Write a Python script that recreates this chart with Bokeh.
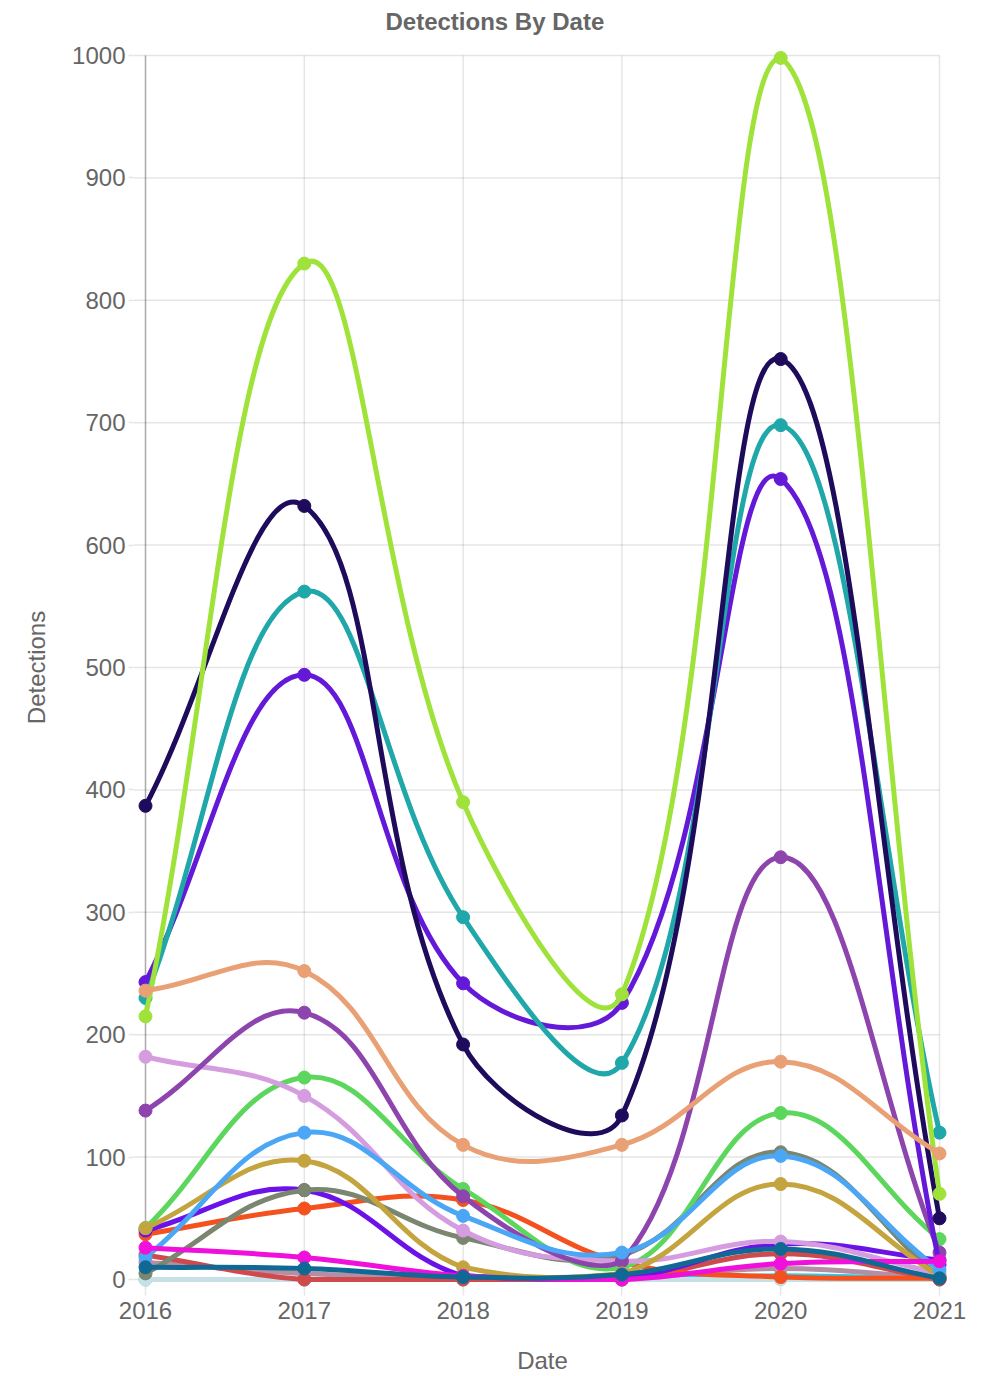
import math
from bokeh.plotting import figure
from bokeh.models import ColumnDataSource, Range1d, FixedTicker, BasicTickFormatter, Title
from bokeh.embed import file_html
from bokeh.resources import INLINE

# ---------------- data ----------------
years = [2016, 2017, 2018, 2019, 2020, 2021]
y_ticks = [0, 100, 200, 300, 400, 500, 600, 700, 800, 900, 1000]

dark_teal = [10, 9, 2, 4, 25, 1]
magenta = [26, 18, 3, 0, 13, 15]
light_blue = [18, 120, 52, 22, 101, 8]
salmon = [236, 252, 110, 110, 178, 103]
olive = [42, 97, 10, 5, 78, 3]
lime = [215, 830, 390, 233, 998, 70]
navy = [387, 632, 192, 134, 752, 50]
teal = [230, 562, 296, 177, 698, 120]
violet = [243, 494, 242, 226, 654, 12]
purple = [138, 218, 68, 15, 345, 22]
lilac = [182, 150, 40, 15, 31, 5]
green = [42, 165, 74, 10, 136, 33]
gray_green = [5, 73, 34, 20, 104, 2]
violet_small = [40, 73, 3, 1, 29, 16]
orange = [37, 58, 65, 14, 2, 1]
red = [20, 0, 0, 0, 21, 0]
mauve = [14, 5, 1, 1, 9, 1]
pale_blue = [0, 0, 0, 0, 0, 0]
cyan = [0, 0, 0, 0, 3, 0]

# dataset order: first = drawn on top
series = [
    ("dark_teal", "#0f6994", dark_teal),
    ("magenta", "#f010dc", magenta),
    ("light_blue", "#4ba7f5", light_blue),
    ("salmon", "#e9a074", salmon),
    ("olive", "#c4a43f", olive),
    ("lime", "#9fe23a", lime),
    ("navy", "#1f0b5c", navy),
    ("teal", "#1fa7aa", teal),
    ("violet", "#6418d8", violet),
    ("purple", "#8e44ad", purple),
    ("lilac", "#d59de0", lilac),
    ("green", "#5dd65d", green),
    ("gray_green", "#7b8670", gray_green),
    ("violet_small", "#6a12e8", violet_small),
    ("orange", "#f4511e", orange),
    ("red", "#cf4a4d", red),
    ("mauve", "#b48fa3", mauve),
    ("pale_blue", "#c6e0e6", pale_blue),
    ("cyan", "#22d0ee", cyan),
]

# ---------------- layout constants ----------------
W, H = 978, 1376
PX_YEAR = 158.8   # pixels per year on screen
PX_UNIT = 1.225   # pixels per detection on screen
PAD = 12          # pixels of padding around the chart area
X0, X1 = years[0], years[-1]
Y0, Y1 = y_ticks[0], y_ticks[-1]
XS, XE = X0 - PAD / PX_YEAR, X1 + PAD / PX_YEAR
YS, YE = Y0 - PAD / PX_UNIT, Y1 + PAD / PX_UNIT

TEXT = "#666666"
FONT = "Liberation Sans"
FS = "24px"

p = figure(
    width=W, height=H, title=None,
    x_range=Range1d(XS, XE), y_range=Range1d(YS, YE),
    output_backend="svg", toolbar_location=None,
    min_border_left=133, min_border_right=27, min_border_top=43, min_border_bottom=84,
)
p.outline_line_color = None
p.background_fill_color = "white"
p.border_fill_color = "white"
p.xgrid.grid_line_color = None
p.ygrid.grid_line_color = None

for ax, ticks in ((p.xaxis[0], years), (p.yaxis[0], y_ticks)):
    ax.ticker = FixedTicker(ticks=ticks)
    ax.formatter = BasicTickFormatter(use_scientific=False)
    ax.axis_line_color = None
    ax.major_tick_line_color = "black"
    ax.major_tick_line_alpha = 0.1
    ax.major_tick_line_width = 1.5
    ax.major_tick_in = 0
    ax.minor_tick_line_color = None
    ax.major_label_text_color = TEXT
    ax.major_label_text_font = FONT
    ax.major_label_text_font_size = FS
    ax.axis_label_text_color = TEXT
    ax.axis_label_text_font = FONT
    ax.axis_label_text_font_size = FS
    ax.axis_label_text_font_style = "normal"
p.yaxis.major_tick_out = 5
p.yaxis.major_label_standoff = 3
p.yaxis.axis_label = "Detections"
p.yaxis.axis_label_standoff = 19
p.xaxis.major_tick_out = 4
p.xaxis.major_label_standoff = 6
p.xaxis.axis_label = "Date"
p.xaxis.axis_label_standoff = 25
p.xaxis.axis_label_text_line_height = 1.0

p.add_layout(Title(text="Detections By Date", align="left", offset=252, standoff=13, vertical_align="top",
                   text_font=FONT, text_font_size=FS, text_font_style="bold", text_color=TEXT), "above")

# grid lines (with their tick stubs running into the padding)
gx = ColumnDataSource(dict(x=years, y0=[YS] * len(years), y1=[Y1] * len(years)))
p.segment(x0="x", y0="y0", x1="x", y1="y1", source=gx, line_color="black", line_alpha=0.1, line_width=1.5)
gy = ColumnDataSource(dict(y=y_ticks, x0=[XS] * len(y_ticks), x1=[X1] * len(y_ticks)))
p.segment(x0="x0", y0="y", x1="x1", y1="y", source=gy, line_color="black", line_alpha=0.1, line_width=1.5)
# zero lines
zl = ColumnDataSource(dict(x0=[X0, X0], y0=[Y0, Y0], x1=[X0, X1], y1=[Y1, Y0]))
p.segment(x0="x0", y0="y0", x1="x1", y1="y1", source=zl, line_color="black", line_alpha=0.25, line_width=1.5)


def spline_segments(xs, ys, tension=0.4):
    """Chart.js style spline: control points computed in screen space, capped to chart area."""
    px = [(x - X0) * PX_YEAR for x in xs]
    py = [y * PX_UNIT for y in ys]
    n = len(px)
    prev_c, next_c = [], []
    for i in range(n):
        a = max(i - 1, 0)
        c = min(i + 1, n - 1)
        d01 = math.hypot(px[i] - px[a], py[i] - py[a])
        d12 = math.hypot(px[c] - px[i], py[c] - py[i])
        tot = d01 + d12
        s01 = d01 / tot if tot else 0.0
        s12 = d12 / tot if tot else 0.0
        fa, fb = tension * s01, tension * s12
        dx, dy = px[c] - px[a], py[c] - py[a]
        prev_c.append((px[i] - fa * dx, py[i] - fa * dy))
        next_c.append((px[i] + fb * dx, py[i] + fb * dy))

    def cap(pt):
        x = min(max(pt[0], 0.0), (X1 - X0) * PX_YEAR)
        y = min(max(pt[1], Y0 * PX_UNIT), Y1 * PX_UNIT)
        return X0 + x / PX_YEAR, y / PX_UNIT

    prev_c = [cap(q) for q in prev_c]
    next_c = [cap(q) for q in next_c]
    return dict(
        x0=xs[:-1], y0=ys[:-1], x1=xs[1:], y1=ys[1:],
        cx0=[q[0] for q in next_c[:-1]], cy0=[q[1] for q in next_c[:-1]],
        cx1=[q[0] for q in prev_c[1:]], cy1=[q[1] for q in prev_c[1:]],
    )


for name, color, vals in reversed(series):
    seg = ColumnDataSource(spline_segments(years, vals))
    p.bezier(x0="x0", y0="y0", x1="x1", y1="y1", cx0="cx0", cy0="cy0", cx1="cx1", cy1="cy1",
             source=seg, line_color=color, line_width=5, line_cap="round")
    pts = ColumnDataSource(dict(x=years, y=vals))
    p.scatter(x="x", y="y", source=pts, size=13, fill_color=color, line_color=color, line_width=1)

open("out.html", "w").write(file_html(p, INLINE))
